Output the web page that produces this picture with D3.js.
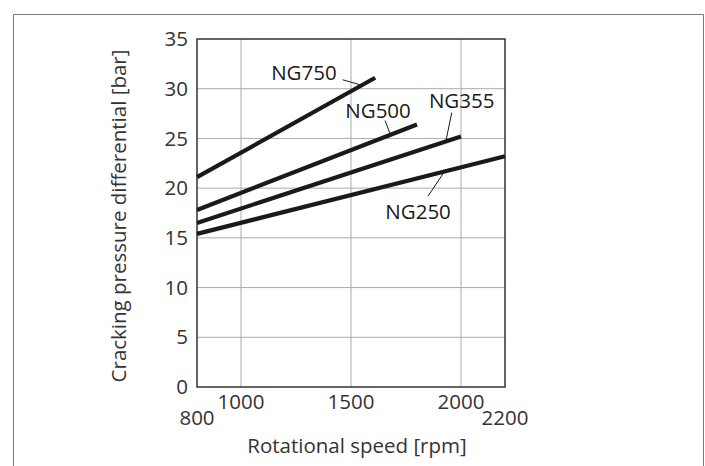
<!DOCTYPE html>
<html><head><meta charset="utf-8">
<script src="https://cdn.jsdelivr.net/npm/d3@7"></script>
<style>
html,body{margin:0;padding:0;background:#fff;}
svg{display:block;}
text{font-family:"Open Sans",Roboto,sans-serif;fill:#333;}
</style></head>
<body>
<svg id="c" width="705" height="466"></svg>
<script>
// ---- data ----
const xTicks = [800, 1000, 1500, 2000, 2200];
const yTicks = [0, 5, 10, 15, 20, 25, 30, 35];
const seriesNames = ["NG750", "NG500", "NG355", "NG250"];
const seriesX = [[800, 1610], [800, 1800], [800, 2000], [800, 2200]];
const seriesY = [[21.1, 31.1], [17.8, 26.4], [16.5, 25.2], [15.4, 23.2]];
// label anchor (data units) and leader line (data units)
const labelAt = [[1286, 31.6], [1623, 27.8], [2003, 28.8], [1805, 17.6]];
const leaderFrom = [[1462, 30.9], [1655, 26.8], [1958, 27.6], [1850, 19.2]];
const leaderTo = [[1541, 30.4], [1677, 25.5], [1932, 24.8], [1923, 21.6]];
const xTitle = "Rotational speed [rpm]";
const yTitle = "Cracking pressure differential [bar]";

const svg = d3.select("#c");
const m = {l:197, r:505, t:39, b:387};
const x = d3.scaleLinear().domain([800, 2200]).range([m.l, m.r]);
const y = d3.scaleLinear().domain([0, 35]).range([m.b, m.t]);
const fs = 20.5;

// outer frame (no bottom)
svg.append("path").attr("d", `M13.5,466 V14.5 H703.5 V466`)
  .attr("fill","none").attr("stroke","#777").attr("stroke-width",1);

// grid
const g = svg.append("g");
g.selectAll(".gx").data(xTicks.slice(1,-1)).join("line")
  .attr("x1", d=>x(d)).attr("x2", d=>x(d)).attr("y1", m.t).attr("y2", m.b)
  .attr("stroke","#aaa").attr("stroke-width",1);
g.selectAll(".gy").data(yTicks.slice(1,-1)).join("line")
  .attr("x1", m.l).attr("x2", m.r).attr("y1", d=>y(d)).attr("y2", d=>y(d))
  .attr("stroke","#aaa").attr("stroke-width",1);

// frame
svg.append("rect").attr("x", m.l).attr("y", m.t).attr("width", m.r-m.l).attr("height", m.b-m.t)
  .attr("fill","none").attr("stroke","#333").attr("stroke-width",1.5);

// y tick labels
svg.selectAll(".yt").data(yTicks).join("text")
  .attr("x", m.l-9).attr("y", d=>y(d)).attr("dy","0.35em")
  .attr("text-anchor","end").attr("font-size",fs).text(d=>d);

// x tick labels (staggered ends)
svg.selectAll(".xt").data(xTicks).join("text")
  .attr("x", d=>x(d))
  .attr("y", (d,i)=> (i===0||i===xTicks.length-1) ? m.b+38 : m.b+22)
  .attr("text-anchor","middle").attr("font-size",fs).text(d=>d);

// titles
svg.append("text").attr("x", (m.l+m.r)/2+6).attr("y", 453)
  .attr("text-anchor","middle").attr("font-size",fs).text(xTitle);
svg.append("text").attr("transform", `translate(126,216) rotate(-90)`)
  .attr("text-anchor","middle").attr("font-size",fs).text(yTitle);

// series lines
const line = d3.line().x(d=>x(d[0])).y(d=>y(d[1]));
seriesNames.forEach((n,i)=>{
  const pts = seriesX[i].map((v,j)=>[v, seriesY[i][j]]);
  svg.append("path").attr("d", line(pts)).attr("fill","none")
    .attr("stroke","#1a1a1a").attr("stroke-width",4.2).attr("stroke-linecap","butt");
  svg.append("line")
    .attr("x1", x(leaderFrom[i][0])).attr("y1", y(leaderFrom[i][1]))
    .attr("x2", x(leaderTo[i][0])).attr("y2", y(leaderTo[i][1]))
    .attr("stroke","#1a1a1a").attr("stroke-width",1);
  svg.append("text").attr("x", x(labelAt[i][0])).attr("y", y(labelAt[i][1]))
    .attr("dy","0.35em").attr("text-anchor","middle").attr("font-size",fs)
    .style("fill","#1a1a1a").text(n);
});
</script>
</body></html>
